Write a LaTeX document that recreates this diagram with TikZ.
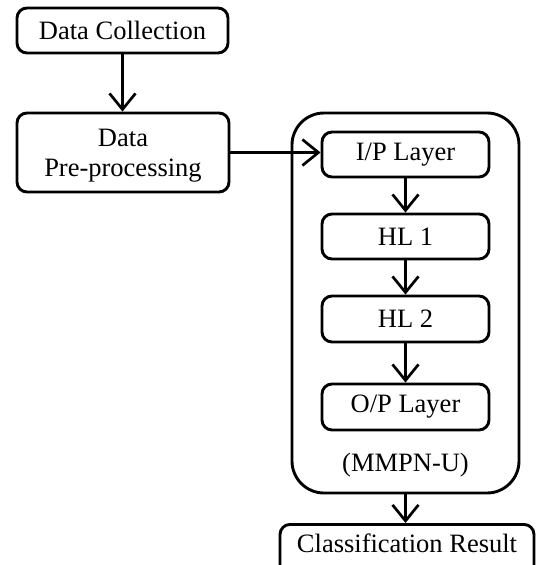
\documentclass[tikz,border=0pt]{standalone}
\usepackage{fontspec}
\setmainfont{Liberation Serif}
\usetikzlibrary{arrows.meta}
\begin{document}
\begin{tikzpicture}[x=1pt,y=-1pt,
  boxline/.style={draw, line width=2.9pt},
  stepbox/.style={boxline, rounded corners=10pt, inner sep=0pt, align=center,
    font=\fontsize{26.5}{30}\selectfont},
  caption/.style={inner sep=0pt, font=\fontsize{26.5}{30}\selectfont},
  flow/.style={line width=2.7pt, -{Straight Barb[length=16pt,width=26pt]}}]
  \useasboundingbox (0,0) rectangle (541,565);
  \clip (0,0) rectangle (541,565);

  % left column
  \node[stepbox, minimum width=211pt, minimum height=45pt] (coll) at (122.5,30.5) {Data Collection};
  \node[stepbox, minimum width=212pt, minimum height=79pt, text depth=-4pt] (prep) at (123,152.5) {Data\\Pre-processing};

  % network container
  \node[boxline, rounded corners=32pt, minimum width=227pt, minimum height=380pt] (net) at (405.5,303) {};
  \node[stepbox, minimum width=167pt, minimum height=45pt] (ip)  at (405.5,154.5) {I/P Layer};
  \node[stepbox, minimum width=167pt, minimum height=45pt] (hl1) at (405.5,236.5) {HL 1};
  \node[stepbox, minimum width=167pt, minimum height=46pt] (hl2) at (405.5,319) {HL 2};
  \node[stepbox, minimum width=167pt, minimum height=46pt] (op)  at (405.5,407) {O/P Layer};
  \node[caption] (netname) at (405.5,465) {(MMPN-U)};

  % output box, running past the lower edge
  \node[stepbox, minimum width=254pt, minimum height=64pt, anchor=north] (res) at (407,523) {};
  \node[caption] (restext) at (407,543) {Classification Result};

  % connectors
  \draw[flow] (coll.south) -- (coll.south |- prep.north);
  \draw[flow] (prep.east) -- (prep.east -| ip.west);
  \draw[flow] (ip) -- (hl1);
  \draw[flow] (hl1) -- (hl2);
  \draw[flow] (hl2) -- (op);
  \draw[flow] (net.south) -- (net.south |- res.north);
\end{tikzpicture}
\end{document}
